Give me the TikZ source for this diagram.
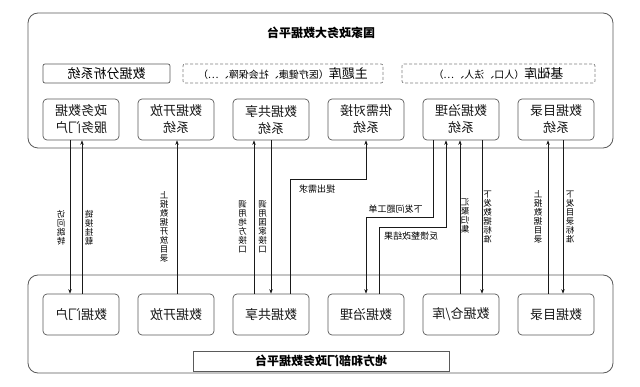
\documentclass[tikz,border=0pt]{standalone}
\usepackage{fontspec}
\setmainfont{Noto Sans CJK SC}
\usetikzlibrary{arrows.meta}
\definecolor{boxline}{HTML}{5A5A5A}
\definecolor{wire}{HTML}{1A1A1A}
\begin{document}
\begin{tikzpicture}[x=1pt,y=-1pt,
  every node/.append style={xscale=-1},
  outerbox/.style={draw=boxline, rounded corners=10pt, line width=0.8pt, inner sep=0pt},
  sysbox/.style={draw=boxline, rounded corners=4pt, line width=0.7pt, minimum width=76pt, minimum height=41pt, inner sep=0pt, align=center, font=\fontsize{13}{17}\selectfont, text=black!90},
  rowbox/.style={draw=boxline, rounded corners=2pt, line width=0.7pt, minimum height=19pt, inner sep=0pt, font=\fontsize{13}{13}\selectfont},
  dashbox/.style={rowbox, dash pattern=on 3pt off 2pt, draw=gray},
  titletext/.style={font=\fontsize{12}{12}\selectfont\bfseries, inner sep=0pt},
  vlab/.style={align=center, inner sep=0pt, font=\fontsize{8.5}{9}\selectfont},
  hlab/.style={inner sep=0pt, font=\fontsize{9}{9}\selectfont},
  wirel/.style={draw=wire, line width=0.7pt},
  arr/.style={wirel, -{Stealth[length=4.5pt,width=3.5pt]}}
]
\useasboundingbox (0,0) rectangle (640,387);
\fill[white] (0,0) rectangle (640,387);

% outer platforms
\node[outerbox, minimum width=585pt, minimum height=135pt] (top) at (320.5,80.5) {};
\node[outerbox, minimum width=585pt, minimum height=98pt] (bot) at (320.5,324) {};

\node[titletext] (ttop) at (321,33) {国家政务大数据平台};
\node[draw=boxline, line width=0.7pt, minimum width=256pt, minimum height=20pt, titletext] (tbot) at (321,361) {地方和部门政务数据平台};

% second row
\node[rowbox, minimum width=127pt] (ana) at (106.5,73.5) {数据分析系统};
\node[dashbox, minimum width=200pt] (theme) at (283,73.5) {主题库{\fontsize{10}{10}\selectfont（医疗健康、社会保障、…）}};
\node[dashbox, minimum width=193pt] (base) at (498.5,73.5) {基础库{\fontsize{10}{10}\selectfont（人口、法人、…）}};

% upper systems
\node[sysbox] (u1) at (81,119.5) {政务数据\\服务门户};
\node[sysbox] (u2) at (176,119.5) {数据开放\\系统};
\node[sysbox] (u3) at (271,119.5) {数据共享\\系统};
\node[sysbox] (u4) at (366,119.5) {供需对接\\系统};
\node[sysbox] (u5) at (461,119.5) {数据治理\\系统};
\node[sysbox] (u6) at (556,119.5) {数据目录\\系统};

% lower systems
\node[sysbox] (l1) at (81,314.5) {数据门户};
\node[sysbox] (l2) at (176,314.5) {数据开放};
\node[sysbox] (l3) at (271,314.5) {数据共享};
\node[sysbox] (l4) at (366,314.5) {数据治理};
\node[sysbox] (l5) at (461,314.5) {数据仓/库};
\node[sysbox] (l6) at (556,314.5) {数据目录};

% connectors
\draw[arr] ([xshift=-11pt]u1.south) -- ([xshift=-11pt]l1.north);
\draw[arr] ([xshift=1pt]l1.north) -- ([xshift=1pt]u1.south);
\draw[arr] ([xshift=1pt]l2.north) -- ([xshift=1pt]u2.south);
\draw[arr] ([xshift=-17pt]l3.north) -- ([xshift=-17pt]u3.south);
\draw[arr] ([xshift=0pt]u3.south) -- ([xshift=0pt]l3.north);
\draw[arr] ([xshift=19pt]l3.north) |- ([yshift=-39pt]u4.south) -- (u4.south);
\draw[arr] ([xshift=-28pt]u5.south) |- ([yshift=-77pt]u4.south) -- (l4.north);
\draw[arr] ([xshift=13pt]l4.north) |- ([yshift=-87pt,xshift=-15pt]u5.south) -- ([xshift=-15pt]u5.south);
\draw[arr] ([xshift=-1pt]l5.north) -- ([xshift=-1pt]u5.south);
\draw[arr] ([xshift=21pt]u5.south) -- ([xshift=21pt]l5.north);
\draw[arr] ([xshift=-8pt]l6.north) -- ([xshift=-8pt]u6.south);
\draw[arr] ([xshift=7pt]u6.south) -- ([xshift=7pt]l6.north);

% labels
\node[vlab] (a1) at (61,227.5) {访\\问\\跳\\转};
\node[vlab] (a2) at (89,227.5) {链\\接\\挂\\载};
\node[vlab] (a3) at (164,227) {上\\报\\数\\据\\开\\放\\目\\录};
\node[vlab] (a4) at (242.5,226.5) {调\\用\\地\\方\\接\\口};
\node[vlab] (a5) at (262.5,226.5) {调\\用\\国\\家\\接\\口};
\node[hlab] (a6) at (317,189) {提出需求};
\node[hlab] (a7) at (395.5,209) {下发问题工单};
\node[hlab] (a8) at (411,236) {反馈整改结果};
\node[vlab] (a9) at (465,216) {汇\\聚\\归\\集};
\node[vlab] (a10) at (487.5,217) {下\\发\\数\\据\\标\\准};
\node[vlab] (a11) at (538,217) {上\\报\\数\\据\\目\\录};
\node[vlab] (a12) at (570,217) {下\\发\\目\\录\\标\\准};
\end{tikzpicture}
\end{document}
